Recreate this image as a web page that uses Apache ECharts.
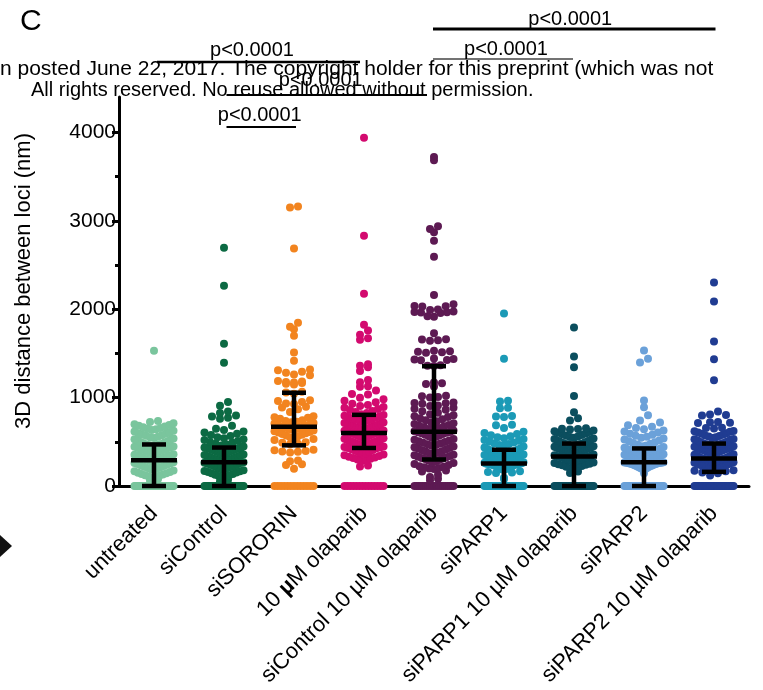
<!DOCTYPE html>
<html>
<head>
<meta charset="utf-8">
<script src="https://cdn.jsdelivr.net/npm/echarts@6/dist/echarts.min.js"></script>
<style>
  html, body { margin: 0; padding: 0; background: #fff; }
  #chart { width: 763px; height: 690px; }
</style>
</head>
<body>
<div id="chart"></div>
<script>
// ---- data -----------------------------------------------------------------
const categories = [
  'untreated', 'siControl', 'siSORORIN', '10 µM olaparib',
  'siControl 10 µM olaparib', 'siPARP1', 'siPARP1 10 µM olaparib',
  'siPARP2', 'siPARP2 10 µM olaparib'
];

// 3D distance between loci (nm), one list per condition
const untreated = [
  0,0,0,0,0,0,0,0,0,0,0,0,0,0,0,0,0,0,0,0,0,0,0,0,0,0,0,0,0,0,0,0,0,0,0,0,
  60, 80,
  95,102,108,117,121,129,136,144,151,158,166,174,
  183,189,198,204,211,219,226,233,241,248,255,261,268,
  272,279,287,293,301,308,316,322,331,338,344,349,353,358,
  362,369,377,384,391,398,406,413,419,426,432,438,443,448,
  452,457,461,466,469,474,483,491,499,507,514,522,529,536,
  544,551,558,567,574,583,591,598,607,616,624,
  633,641,648,657,664,672,681,689,698,709,
  724,736,
  1530
];
const siControl = [
  0,0,0,0,0,0,0,0,0,0,0,0,0,0,0,0,0,0,0,0,0,0,0,0,0,0,0,0,0,0,0,0,0,0,
  55, 70,
  96,104,112,121,128,137,144,152,158,166,171,177,
  184,191,197,206,212,219,227,233,239,246,253,259,264,268,
  274,279,285,291,296,302,309,314,321,327,333,339,345,351,356,361,
  366,371,377,383,389,394,399,404,409,414,419,423,427,430,433,435,
  446,457,468,479,488,497,508,519,529,541,552,566,578,591,604,617,633,648,
  682,761,772,786,797,826,843,907,951,1393,1608,2265,2695
];
const siSORORIN = [
  0,0,0,0,0,0,0,0,0,0,0,0,0,
  196,238,246,281,288,379,386,391,397,403,409,
  471,479,488,496,521,533,542,551,562,571,579,588,597,604,612,619,627,634,641,648,653,659,664,668,
  676,684,691,699,706,713,721,728,736,744,761,772,779,788,838,868,889,897,928,934,951,962,969,1044,
  1058,1066,1148,1156,1164,1171,1177,1183,1189,1252,1261,1281,1292,1309,1318,1416,1510,1699,1774,1801,1846,2686,3151,3162
];
const olaparib10 = [
  0,0,0,0,0,0,0,0,0,0,0,0,0,0,
  221,233,284,292,301,309,317,322,331,339,348,356,362,371,379,388,399,408,417,426,
  431,436,441,446,452,457,461,466,472,477,481,486,492,497,502,507,513,518,523,528,534,539,544,549,555,561,566,571,577,582,587,591,596,599,
  604,609,614,619,624,629,634,639,644,649,655,661,666,671,676,681,686,692,697,702,708,713,719,726,733,741,748,756,764,772,781,789,796,803,
  812,826,838,849,861,872,884,893,904,917,931,948,963,982,998,
  1036,1041,1079,1122,1128,1174,1199,1302,1344,1361,1378,1653,1672,1710,1759,1823,2174,2830,3940
];
const siControlOlaparib = [
  0,0,0,0,0,0,0,0,0,0,0,0,0,0,0,0,0,0,0,0,
  66,82,101,128,164,176,193,199,204,211,217,222,238,249,261,270,279,287,294,
  304,311,318,324,331,339,347,354,362,369,377,386,394,404,413,422,429,437,446,454,463,472,481,489,497,506,514,523,533,542,553,562,571,579,588,596,603,608,612,
  619,628,637,646,655,664,673,682,691,701,711,722,733,744,756,767,780,790,799,812,829,846,862,874,886,905,910,930,936,940,945,1000,1008,1014,1020,1125,1155,1163,1170,
  1356,1361,1366,1421,1426,1431,1436,1441,1508,1514,1519,1524,1530,1644,1650,1656,1661,1729,1914,1921,
  1958,1962,1966,1969,1973,1990,1996,2029,2033,2036,2057,2160,2593,2775,2869,2907,2937,3684,3722
];
const siPARP1 = [
  0,0,0,0,0,0,0,0,0,0,0,0,0,0,0,0,0,0,0,0,0,0,0,0,0,0,0,0,0,0,0,0,0,0,
  78,94,148,153,159,166,181,186,191,196,201,206,210,214,218,222,226,229,232,236,239,242,244,246,248,250,251,253,254,255,
  259,264,268,273,277,282,286,291,295,300,305,309,314,318,323,328,332,337,341,346,351,356,361,366,371,376,381,386,391,397,403,409,
  418,427,436,446,455,464,474,483,492,502,511,521,531,541,552,563,575,587,600,614,
  657,688,694,781,786,791,879,886,955,963,1438,1951
];
const siPARP1Olaparib = [
  0,0,0,0,0,0,0,0,0,0,0,0,0,0,0,0,0,0,0,0,0,0,0,0,0,0,0,0,0,0,0,0,
  148,165,182,197,209,218,226,234,241,247,253,259,265,271,277,283,288,293,298,303,308,313,317,321,325,329,332,335,
  339,344,349,355,360,364,370,375,379,385,389,394,400,404,409,415,419,424,430,434,439,445,449,454,459,464,468,472,476,480,
  487,494,501,508,516,523,531,538,546,553,561,569,577,585,594,602,611,620,629,638,644,648,653,
  740,766,834,1019,1344,1465,1793
];
const siPARP2 = [
  0,0,0,0,0,0,0,0,0,0,0,0,0,0,0,0,0,0,0,0,0,0,0,0,0,0,0,0,0,0,0,0,0,0,
  144,183,189,194,199,204,209,213,217,221,225,229,232,236,239,242,245,248,251,254,256,258,260,262,264,265,266,267,268,270,
  274,279,283,288,292,297,301,306,310,315,319,324,328,333,338,343,348,353,358,363,368,373,378,383,388,393,398,403,408,413,418,423,
  432,441,450,459,468,477,487,496,506,516,526,536,547,558,569,580,592,604,616,629,642,656,671,686,
  717,740,800,891,966,1397,1438,1532
];
const siPARP2Olaparib = [
  0,0,0,0,0,0,0,0,0,0,0,0,0,0,0,0,0,0,0,0,0,0,0,0,0,0,0,0,0,0,0,0,
  120,144,152,
  166,172,178,184,189,194,199,204,209,214,219,224,229,234,239,244,249,254,259,264,268,272,276,280,284,288,291,294,297,300,302,304,306,308,310,
  314,319,324,329,334,339,344,349,354,359,364,369,374,379,384,389,394,399,404,409,414,419,424,429,434,439,444,449,454,459,464,469,473,477,480,
  488,497,506,515,524,528,533,542,551,560,566,570,580,591,598,604,615,618,622,651,655,659,712,716,720,724,798,804,810,842,
  1197,1434,1635,2088,2303
];
const groups = [untreated, siControl, siSORORIN, olaparib10, siControlOlaparib,
                siPARP1, siPARP1Olaparib, siPARP2, siPARP2Olaparib];

// median with interquartile range per condition
const medians = [290, 270, 670, 600, 615, 255, 335, 270, 310];
const q1      = [0,   0,   460, 430, 300, 0,   0,   0,   160];
const q3      = [470, 435, 1055, 805, 1355, 410, 480, 425, 480];

const yTicks = [0, 1000, 2000, 3000, 4000];
const yMinorTicks = [500, 1500, 2500, 3500];

// pairwise comparisons drawn above the plot
const comparisons = [
  { from: 4, to: 8, label: 'p<0.0001' },
  { from: 0, to: 3, label: 'p<0.0001' },
  { from: 4, to: 6, label: 'p<0.0001' },
  { from: 1, to: 4, label: 'p<0.0001' },
  { from: 1, to: 2, label: 'p<0.0001' }
];

// ---- styling / layout -------------------------------------------------------
const FONT = "'Liberation Sans', Arial, Helvetica, sans-serif";
const palette = ['#7ac59d', '#0c6a43', '#f2841f', '#d30a6f', '#5d1a53',
                 '#1b9ab6', '#0b4e5e', '#6ba1d9', '#203c92'];
const DOT_R = 4;
const DOT_STEP = 8;        // px between neighbours in a row
const ROW_HALF = 19.5;     // px, widest offset of a row centre
const ROW_BIN = 90;        // nm grouped into one row

// bracket rows: line y, label baseline, end trims and label shift (px)
const bracketStyle = [
  { y: 29,  base: 26.5, t0: -1,  t1: 1.5, dx: -4,   w: 3,   c: '#000' },
  { y: 62,  base: 57,   t0: 3,   t1: -4,  dx: -6.5, w: 2.5, c: '#000' },
  { y: 59,  base: 56.5, t0: -1,  t1: -1,  dx: 3,    w: 1.5, c: '#444' },
  { y: 95,  base: 87.5, t0: 2.5, t1: -7,  dx: -6,   w: 2,   c: '#000' },
  { y: 127, base: 122.5, t0: 2.5, t1: 2,  dx: -1.5, w: 2,   c: '#000' }
];

// Beeswarm: values sharing a row bin sit side by side, lowest in the centre,
// alternating outward; the row is squeezed when it gets too wide.
function swarmOffsets(values) {
  const order = values.map((v, i) => i).sort((a, b) => values[a] - values[b]);
  const rows = new Map();
  order.forEach(i => {
    const v = values[i];
    const key = v === 0 ? -1 : Math.floor(v / ROW_BIN);
    if (!rows.has(key)) rows.set(key, []);
    rows.get(key).push(i);
  });
  const dx = new Array(values.length).fill(0);
  rows.forEach(list => {
    const n = list.length;
    const s = n > 1 ? Math.min(DOT_STEP, 2 * ROW_HALF / (n - 1)) : 0;
    const slots = [];
    for (let j = 0; j < n; j++) slots.push((j - (n - 1) / 2) * s);
    slots.sort((a, b) => Math.abs(a) - Math.abs(b) || a - b);
    list.forEach((idx, k) => { dx[idx] = slots[k]; });
  });
  return dx;
}

const dotSeries = groups.map((vals, g) => {
  const dx = swarmOffsets(vals);
  return {
    type: 'custom',
    name: categories[g],
    clip: false,
    z: 3,
    encode: { x: 0, y: 1 },
    data: vals.map((v, i) => [g, v, dx[i]]),
    renderItem: (params, api) => {
      const p = api.coord([api.value(0), api.value(1)]);
      return {
        type: 'circle',
        shape: { cx: p[0] + api.value(2), cy: p[1], r: DOT_R },
        style: { fill: palette[g] }
      };
    }
  };
});

const errorSeries = {
  type: 'custom',
  clip: false,
  z: 5,
  encode: { x: 0, y: [1, 2, 3] },
  data: categories.map((c, i) => [i, q1[i], medians[i], q3[i]]),
  renderItem: (params, api) => {
    const i = api.value(0);
    const x = api.coord([i, 0])[0];
    const yLo = api.coord([i, api.value(1)])[1];
    const yMid = api.coord([i, api.value(2)])[1];
    const yHi = api.coord([i, api.value(3)])[1];
    const st = { stroke: '#000', lineWidth: 4.5 };
    const seg = (x1, y1, x2, y2) => ({ type: 'line', shape: { x1, y1, x2, y2 }, style: st });
    return {
      type: 'group',
      children: [
        seg(x, yLo, x, yHi),
        seg(x - 12, yLo, x + 12, yLo),
        seg(x - 12, yHi, x + 12, yHi),
        seg(x - 23, yMid, x + 23, yMid)
      ]
    };
  }
};

const chart = echarts.init(document.getElementById('chart'), null, { renderer: 'canvas' });

chart.setOption({
  backgroundColor: '#fff',
  animation: false,
  grid: { left: 119, right: 14, top: 97, bottom: 204 },
  xAxis: {
    type: 'category',
    data: categories,
    boundaryGap: true,
    axisLine: { lineStyle: { color: '#000', width: 3 } },
    axisTick: { alignWithLabel: true, length: 7, lineStyle: { color: '#000', width: 3 } },
    axisLabel: {
      interval: 0,
      rotate: 45,
      margin: 24,
      fontSize: 22,
      color: '#000',
      fontFamily: FONT,
      formatter: (v, i) => (i === 3 ? v.replace('µ', '{b|µ}') : v),
      rich: { b: { fontWeight: 'bold', fontSize: 22, fontFamily: FONT, color: '#000' } }
    },
    splitLine: { show: false }
  },
  yAxis: [
    {
      type: 'value',
      min: 0,
      max: 4400,
      axisLine: { show: true, lineStyle: { color: '#000', width: 3 } },
      axisTick: { show: true, length: 7, customValues: yTicks, lineStyle: { color: '#000', width: 3 } },
      axisLabel: {
        customValues: yTicks, fontSize: 21, color: '#000', fontFamily: FONT, margin: 3,
        formatter: v => String(v)
      },
      splitLine: { show: false }
    },
    {
      type: 'value',
      min: 0,
      max: 4400,
      position: 'left',
      axisLine: { show: false },
      axisTick: { show: true, length: 4, customValues: yMinorTicks, lineStyle: { color: '#000', width: 3 } },
      axisLabel: { show: false },
      splitLine: { show: false }
    }
  ],
  series: [...dotSeries, errorSeries]
});

// overlay text and comparison brackets
const txt = (x, y, s, size, align, extra) => Object.assign({
  type: 'text', x, y, silent: true,
  style: { text: s, fontSize: size, fontFamily: FONT, fill: '#000', align: align, verticalAlign: 'middle' }
}, extra || {});

const overlay = [
  txt(20, 22, 'C', 30, 'left'),
  txt(0, 69, 'n posted June 22, 2017. The copyright holder for this preprint (which was not', 21, 'left'),
  txt(31, 90, 'All rights reserved. No reuse allowed without permission.', 20, 'left'),
  txt(24, 281, '3D distance between loci (nm)', 22, 'center', { rotation: Math.PI / 2 }),
  { type: 'polygon', silent: true, shape: { points: [[0, 535], [12, 546], [0, 557]] }, style: { fill: '#111' } }
];

comparisons.forEach((c, k) => {
  const b = bracketStyle[k];
  const x0 = chart.convertToPixel({ xAxisIndex: 0 }, c.from) + b.t0;
  const x1 = chart.convertToPixel({ xAxisIndex: 0 }, c.to) + b.t1;
  overlay.push({
    type: 'line', silent: true, z: 10,
    shape: { x1: x0, y1: b.y, x2: x1, y2: b.y },
    style: { stroke: b.c, lineWidth: b.w }
  });
  overlay.push(txt((x0 + x1) / 2 + b.dx, b.base - 7, c.label, 20, 'center', { z: 10 }));
});

chart.setOption({ graphic: overlay });
</script>
</body>
</html>
